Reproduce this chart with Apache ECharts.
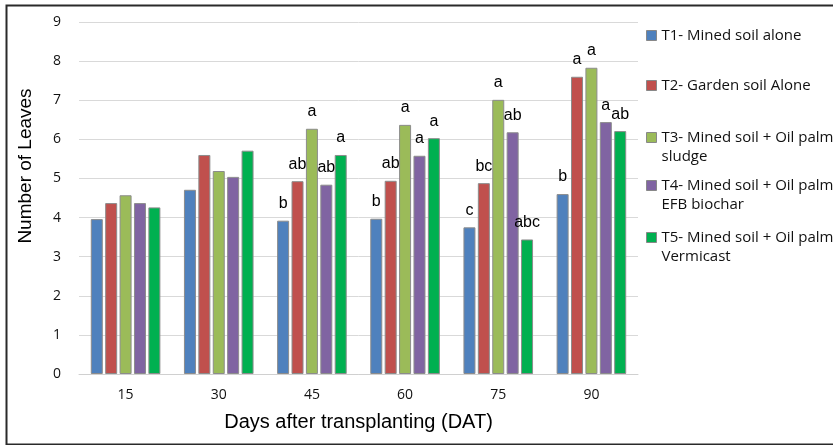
<!DOCTYPE html>
<html>
<head>
<meta charset="utf-8">
<script src="https://cdn.jsdelivr.net/npm/echarts@6/dist/echarts.min.js"></script>
<style>html,body{margin:0;padding:0;background:#fff}#c{width:833px;height:445px}</style>
</head>
<body>
<div id="c"></div>
<script>
const categories = ['15', '30', '45', '60', '75', '90'];
const seriesNames = [
  'T1- Mined soil alone',
  'T2- Garden soil Alone',
  'T3- Mined soil + Oil palm\nsludge',
  'T4- Mined soil + Oil palm\nEFB biochar',
  'T5- Mined soil + Oil palm\nVermicast'
];
const t1 = [3.96, 4.71, 3.92, 3.97, 3.75, 4.60];
const t2 = [4.37, 5.60, 4.93, 4.94, 4.88, 7.60];
const t3 = [4.57, 5.19, 6.27, 6.37, 7.01, 7.83];
const t4 = [4.37, 5.04, 4.84, 5.58, 6.18, 6.44];
const t5 = [4.26, 5.71, 5.60, 6.03, 3.44, 6.21];
const l1 = ['', '', 'b', 'b', 'c', 'b'];
const l2 = ['', '', 'ab', 'ab', 'bc', 'a'];
const l3 = ['', '', 'a', 'a', 'a', 'a'];
const l4 = ['', '', 'ab', 'a', 'ab', 'a'];
const l5 = ['', '', 'a', 'a', 'abc', 'ab'];
const yTicks = [0, 9, 1];

const colors = ['#4f81bd', '#c0504d', '#9bbb59', '#8064a2', '#00b050'];
const values = [t1, t2, t3, t4, t5];
const letters = [l1, l2, l3, l4, l5];

const chart = echarts.init(document.getElementById('c'), null, {renderer: 'canvas'});

const legendTops = [21, 71, 104, 152, 204];
const legends = seriesNames.map((n, i) => {
  const twoLine = n.indexOf('\n') >= 0;
  return {
    show: true,
    data: [n],
    orient: 'vertical',
    left: 641,
    top: legendTops[i],
    itemWidth: 10,
    itemHeight: 10,
    icon: 'rect',
    itemStyle: {borderColor: '#888', borderWidth: 1},
    formatter: (name) => twoLine ? ' \n' + name : name,
    textStyle: {
      fontFamily: 'Open Sans',
      fontSize: 15,
      color: '#111',
      lineHeight: 19
    },
    selectedMode: false
  };
});

const series = values.map((v, i) => ({
  name: seriesNames[i],
  type: 'bar',
  data: v.map((y, j) => ({value: y, label: {formatter: letters[i][j]}})),
  barWidth: 12,
  barGap: '20%',
  itemStyle: {color: colors[i], borderColor: '#8c8c8c', borderWidth: 1},
  label: {
    show: true,
    position: 'top',
    distance: 9,
    fontFamily: 'Liberation Sans',
    fontSize: 16,
    color: '#000'
  }
}));

chart.setOption({
  animation: false,
  backgroundColor: '#fff',
  color: colors,
  grid: {left: 79, right: 195, top: 22, bottom: 71, containLabel: false},
  legend: legends,
  xAxis: {
    type: 'category',
    data: categories,
    axisLine: {lineStyle: {color: '#d0d0d0'}},
    axisTick: {show: false},
    axisLabel: {fontFamily: 'Open Sans', fontSize: 14, color: '#111', margin: 14},
    name: 'Days after transplanting (DAT)',
    nameLocation: 'middle',
    nameGap: 38,
    nameTextStyle: {fontFamily: 'Liberation Sans', fontSize: 20, color: '#000'}
  },
  yAxis: {
    type: 'value',
    min: yTicks[0],
    max: yTicks[1],
    interval: yTicks[2],
    axisLine: {show: false},
    axisTick: {show: false},
    splitLine: {lineStyle: {color: '#d9d9d9', width: 1}},
    axisLabel: {fontFamily: 'Open Sans', fontSize: 14, color: '#111', margin: 18},
    name: 'Number of Leaves',
    nameLocation: 'middle',
    nameGap: 44,
    nameRotate: 90,
    nameTextStyle: {fontFamily: 'Liberation Sans', fontSize: 19, color: '#000', padding: [0, 0, 0, 64]}
  },
  graphic: [{
    type: 'rect',
    left: 4, top: 3,
    shape: {x: 0, y: 0, width: 900, height: 439},
    style: {fill: 'none', stroke: '#2a2a2a', lineWidth: 2},
    silent: true
  }],
  series: series
});
</script>
</body>
</html>
